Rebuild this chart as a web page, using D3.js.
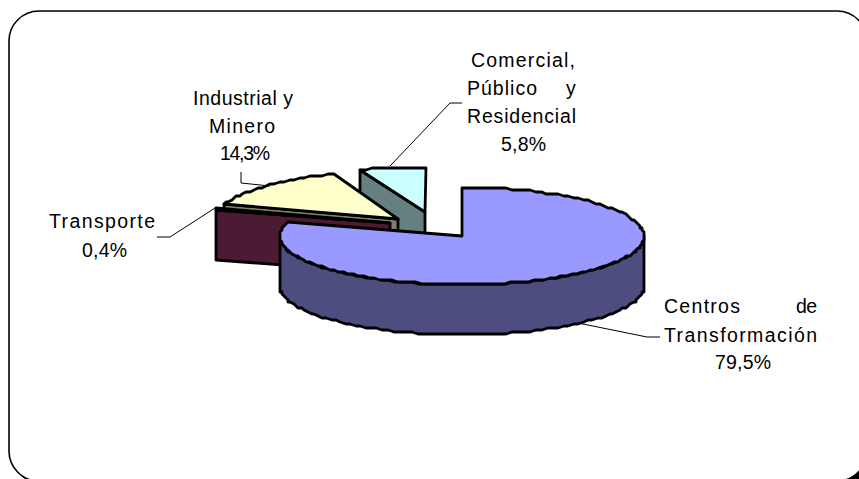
<!DOCTYPE html>
<html lang="es">
<head>
<meta charset="utf-8">
<title>Consumo por sector</title>
<script src="https://cdn.jsdelivr.net/npm/d3@7/dist/d3.min.js"></script>
<style>
  html, body { margin: 0; padding: 0; background: #fff; }
  svg { display: block; }
  text { font-family: "Liberation Sans", Arial, sans-serif; font-size: 19.5px; fill: #000; }
</style>
</head>
<body>
<svg id="chart" width="859" height="479"></svg>
<script>
// Sector shares, in drawing order clockwise from twelve o'clock.
const sectors = ["Centros de Transformación", "Transporte", "Industrial y Minero", "Comercial, Público y Residencial"];
const shares = [79.5, 0.4, 14.3, 5.8];
const topColors = ["#9999FF", "#993366", "#FFFFCC", "#CCFFFF"];
const sideColors = ["#4D4D80", "#4D1A33", "#808066", "#668080"];

// Wrapped label words; each group ends with the formatted share.
const labelWords = [
  [["Centros", "de"], ["Transformación"]],
  [["Transporte"]],
  [["Industrial y"], ["Minero"]],
  [["Comercial,"], ["Público", "y"], ["Residencial"]]
];

// Exploded wedge geometry: apex, ellipse radii and extrusion depth.
const wedges = [
  { cx: 462, cy: 236, rx: 182, ry: 48.6, depth: 50 },
  { cx: 390, cy: 223, rx: 182, ry: 48, depth: 50 },
  { cx: 398, cy: 219, rx: 182, ry: 48, depth: 50 },
  { cx: 425, cy: 212, rx: 182, ry: 45, depth: 50 }
];

// Horizontal spans and baselines for every piece of label text, by sector.
const labelBoxes = [
  [[[664, 740, 313], [796, 817, 313]], [[664, 817, 342]], [[715, 771, 369]]],
  [[[49, 155, 228]], [[82, 127, 257]]],
  [[[193, 293, 105]], [[209, 275, 133]], [[220, 270, 160]]],
  [[[471, 575, 67]], [[467, 537, 95], [566, 577, 95]], [[467, 576, 123]], [[501, 546, 151]]]
];

// Leader lines running from each wedge to its label.
const leaders = [
  [[578, 323], [647, 337], [660, 337]],
  [[215, 208], [170, 237], [157, 237]],
  [[270, 186], [241, 183], [241, 172]],
  [[390, 166], [450, 103], [462, 103]]
];

const svg = d3.select("#chart");
const percent = v => d3.format(".1f")(v).replace(".", ",") + "%";

// Frame: a black rounded panel peeking out behind a white one.
svg.append("rect").attr("x", 13).attr("y", 15).attr("width", 858).attr("height", 470)
  .attr("rx", 30).attr("ry", 30).attr("fill", "#000");
svg.append("rect").attr("x", 9).attr("y", 11).attr("width", 858).attr("height", 470)
  .attr("rx", 30).attr("ry", 30).attr("fill", "#fff").attr("stroke", "#000").attr("stroke-width", 1.6);

const arcs = d3.pie().sort(null).value(d => d)(shares);

// Projects a pie angle onto a wedge's tilted ellipse, snapped to a coarse device grid.
const grid = 2;
const snap = v => Math.round(v / grid) * grid;
const project = (w, angle, drop = 0) => [
  snap(w.cx + w.rx * Math.sin(angle)),
  snap(w.cy - w.ry * Math.cos(angle)) + drop
];
const samples = (a0, a1) => {
  const n = Math.max(1, Math.ceil((a1 - a0) / (2 * Math.PI / 180)));
  return d3.range(n + 1).map(i => a0 + (a1 - a0) * i / n);
};

const outline = { stroke: "#000", "stroke-width": 2.8, "stroke-linejoin": "round" };
const drawPoly = (pts, fill) => {
  const p = svg.append("path").attr("d", d3.line()(pts) + "Z").attr("fill", fill);
  Object.entries(outline).forEach(([k, v]) => p.attr(k, v));
};

// Back to front: Comercial, Industrial, Transporte, then the large wedge.
[3, 2, 1, 0].forEach(i => {
  const a = arcs[i], w = wedges[i];
  const apex = [w.cx, w.cy];
  const start = project(w, a.startAngle);
  if (i !== 0) {
    // Cut face exposed on the counter-clockwise side of a small wedge.
    drawPoly([apex, start, [start[0], start[1] + w.depth], [apex[0], apex[1] + w.depth]], sideColors[i]);
  } else {
    // Outer rim of the large wedge, along the near half of the ellipse.
    const front = samples(Math.PI / 2, 3 * Math.PI / 2);
    const rimTop = front.map(t => project(w, t));
    const rimBottom = front.map(t => project(w, t, w.depth)).reverse();
    drawPoly(rimTop.concat(rimBottom), sideColors[i]);
  }
  const edge = samples(a.startAngle, a.endAngle).map(t => project(w, t));
  drawPoly([apex].concat(edge), topColors[i]);
});

// Leader lines.
svg.append("g").selectAll("path").data(leaders).join("path")
  .attr("d", d => d3.line()(d)).attr("fill", "none").attr("stroke", "#000").attr("stroke-width", 1);

// Labels: wrapped words followed by the share, fitted to their spans.
sectors.forEach((name, i) => {
  const lines = labelWords[i].concat([[percent(shares[i])]]);
  const g = svg.append("g").attr("aria-label", name);
  lines.forEach((words, l) => words.forEach((word, k) => {
    const [x0, x1, base] = labelBoxes[i][l][k];
    g.append("text").attr("x", x0).attr("y", base)
      .attr("textLength", x1 - x0).attr("lengthAdjust", "spacing").text(word);
  }));
});
</script>
</body>
</html>
